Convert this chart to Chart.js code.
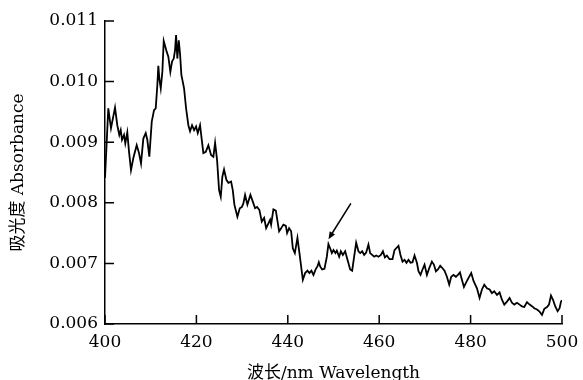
<!DOCTYPE html>
<html>
<head>
<meta charset="utf-8">
<script src="https://cdn.jsdelivr.net/npm/chart.js@4/dist/chart.umd.min.js"></script>
<style>
  html, body { margin: 0; padding: 0; background: #fff; }
  canvas { display: block; }
</style>
</head>
<body>
<canvas id="espectro" width="583" height="380"></canvas>
<script>
const wavelengths = [
  400.00, 400.72, 401.31, 402.19, 402.69, 403.13, 403.44, 403.72, 404.16, 404.44,
  404.88, 405.26, 405.69, 406.20, 406.94, 407.44, 407.88, 408.39, 408.91, 409.26,
  409.70, 410.23, 410.73, 411.10, 411.45, 411.67, 411.89, 412.20, 412.55, 412.85,
  413.51, 413.86, 414.30, 414.67, 415.04, 415.33, 415.55, 415.83, 416.14, 416.42,
  416.71, 417.01, 417.30, 417.74, 418.24, 418.61, 419.05, 419.49, 419.93, 420.30,
  420.80, 421.52, 422.05, 422.62, 423.21, 423.71, 424.09, 424.52, 424.96, 425.33,
  425.68, 426.05, 426.56, 427.00, 427.59, 427.96, 428.31, 428.97, 429.49, 429.93,
  430.28, 430.65, 431.16, 431.82, 432.34, 432.84, 433.28, 433.79, 434.31, 434.82,
  435.26, 435.76, 436.13, 436.35, 436.85, 437.38, 438.10, 438.54, 439.04, 439.57,
  439.85, 440.29, 440.73, 441.10, 441.54, 442.11, 442.55, 443.29, 443.79, 444.30,
  444.73, 445.17, 445.61, 446.14, 446.49, 446.79, 447.08, 447.51, 448.02, 448.54,
  448.89, 449.26, 449.64, 449.99, 450.43, 450.73, 451.24, 451.61, 452.05, 452.55,
  453.06, 453.65, 454.08, 454.52, 454.96, 455.46, 455.84, 456.27, 456.71, 457.15,
  457.65, 458.02, 458.46, 458.90, 459.34, 459.84, 460.37, 460.81, 461.24, 461.68,
  462.25, 462.91, 463.35, 463.72, 464.22, 464.66, 465.10, 465.54, 465.97, 466.41,
  466.85, 467.29, 467.73, 468.25, 468.60, 469.04, 469.48, 469.92, 470.44, 470.94,
  471.53, 471.97, 472.41, 472.85, 473.35, 473.86, 474.29, 474.82, 475.32, 475.76,
  476.26, 476.79, 477.23, 477.67, 478.10, 478.54, 478.98, 479.55, 480.14, 480.64,
  481.39, 481.96, 482.48, 482.99, 483.58, 484.15, 484.67, 485.18, 485.77, 486.34,
  486.86, 487.37, 487.96, 488.53, 489.05, 489.56, 490.15, 490.72, 491.24, 491.75,
  492.34, 492.91, 493.50, 493.94, 494.53, 495.03, 495.62, 496.13, 496.72, 497.15,
  497.59, 498.03, 498.53, 499.04, 499.47, 499.78, 500.00
];

const absorbance = [
  0.00841, 0.00956, 0.00923, 0.00957, 0.00928, 0.00912, 0.00920, 0.00904, 0.00912, 0.00898,
  0.00916, 0.00884, 0.00854, 0.00874, 0.00895, 0.00882, 0.00865, 0.00906, 0.00915, 0.00904,
  0.00876, 0.00934, 0.00953, 0.00956, 0.00994, 0.01026, 0.01005, 0.00989, 0.01016, 0.01067,
  0.01049, 0.01041, 0.01016, 0.01033, 0.01038, 0.01052, 0.01077, 0.01038, 0.01068, 0.01046,
  0.01011, 0.01000, 0.00989, 0.00956, 0.00928, 0.00918, 0.00928, 0.00920, 0.00926, 0.00915,
  0.00928, 0.00882, 0.00884, 0.00895, 0.00879, 0.00876, 0.00899, 0.00871, 0.00821, 0.00810,
  0.00843, 0.00855, 0.00838, 0.00833, 0.00835, 0.00821, 0.00797, 0.00777, 0.00791, 0.00793,
  0.00799, 0.00813, 0.00797, 0.00813, 0.00802, 0.00791, 0.00793, 0.00788, 0.00769, 0.00775,
  0.00758, 0.00766, 0.00772, 0.00764, 0.00789, 0.00787, 0.00753, 0.00758, 0.00764, 0.00762,
  0.00750, 0.00758, 0.00753, 0.00725, 0.00717, 0.00742, 0.00717, 0.00673, 0.00684, 0.00688,
  0.00684, 0.00688, 0.00681, 0.00691, 0.00695, 0.00702, 0.00695, 0.00690, 0.00691, 0.00711,
  0.00732, 0.00725, 0.00717, 0.00722, 0.00717, 0.00721, 0.00711, 0.00720, 0.00714, 0.00720,
  0.00706, 0.00690, 0.00688, 0.00711, 0.00734, 0.00720, 0.00717, 0.00720, 0.00714, 0.00718,
  0.00731, 0.00717, 0.00714, 0.00711, 0.00713, 0.00711, 0.00714, 0.00720, 0.00710, 0.00713,
  0.00707, 0.00707, 0.00722, 0.00725, 0.00729, 0.00714, 0.00703, 0.00706, 0.00701, 0.00706,
  0.00701, 0.00702, 0.00713, 0.00701, 0.00687, 0.00681, 0.00690, 0.00698, 0.00681, 0.00692,
  0.00703, 0.00698, 0.00687, 0.00690, 0.00696, 0.00692, 0.00688, 0.00678, 0.00665, 0.00678,
  0.00681, 0.00678, 0.00681, 0.00685, 0.00673, 0.00661, 0.00668, 0.00676, 0.00684, 0.00671,
  0.00659, 0.00643, 0.00657, 0.00665, 0.00659, 0.00657, 0.00651, 0.00654, 0.00648, 0.00652,
  0.00640, 0.00632, 0.00637, 0.00643, 0.00635, 0.00632, 0.00635, 0.00632, 0.00629, 0.00628,
  0.00636, 0.00632, 0.00629, 0.00626, 0.00624, 0.00621, 0.00615, 0.00625, 0.00628, 0.00632,
  0.00647, 0.00640, 0.00629, 0.00621, 0.00626, 0.00637, 0.00639
];

const xTicks = [400, 420, 440, 460, 480, 500];
const yTicks = [0.006, 0.007, 0.008, 0.009, 0.010, 0.011];

// Flecha que señala el pico (cola -> punta, en unidades de datos)
const arrowTail = [453.8, 0.00799];
const arrowTip = [448.9, 0.00740];

const fuente = "'DejaVu Serif', 'Noto Sans CJK SC', serif";

// Marcas de graduación hacia dentro y flecha
const marcasPlugin = {
    id: 'marcas',
    afterDatasetsDraw(chart) {
        const ctx = chart.ctx;
        const xs = chart.scales.x;
        const ys = chart.scales.y;
        const area = chart.chartArea;
        ctx.save();
        ctx.strokeStyle = '#000';
        ctx.lineWidth = 1.5;
        ctx.beginPath();
        xTicks.forEach(v => {
            const px = xs.getPixelForValue(v);
            ctx.moveTo(px, area.bottom);
            ctx.lineTo(px, area.bottom - 9);
        });
        yTicks.forEach(v => {
            const py = ys.getPixelForValue(v);
            ctx.moveTo(area.left, py);
            ctx.lineTo(area.left + 9, py);
        });
        ctx.stroke();

        const x1 = xs.getPixelForValue(arrowTail[0]);
        const y1 = ys.getPixelForValue(arrowTail[1]);
        const x2 = xs.getPixelForValue(arrowTip[0]);
        const y2 = ys.getPixelForValue(arrowTip[1]);
        const ang = Math.atan2(y2 - y1, x2 - x1);
        const len = 8;
        ctx.beginPath();
        ctx.moveTo(x1, y1);
        ctx.lineTo(x2 - Math.cos(ang) * 4, y2 - Math.sin(ang) * 4);
        ctx.stroke();
        ctx.beginPath();
        ctx.fillStyle = '#000';
        ctx.moveTo(x2, y2);
        ctx.lineTo(x2 - len * Math.cos(ang - 0.4), y2 - len * Math.sin(ang - 0.4));
        ctx.lineTo(x2 - len * Math.cos(ang + 0.4), y2 - len * Math.sin(ang + 0.4));
        ctx.closePath();
        ctx.fill();
        ctx.restore();
    }
};

const puntos = wavelengths.map((w, i) => ({ x: w, y: absorbance[i] }));

new Chart(document.getElementById('espectro'), {
    type: 'line',
    data: {
        datasets: [{
            data: puntos,
            borderColor: '#000',
            borderWidth: 1.8,
            pointRadius: 0,
            tension: 0,
            fill: false
        }]
    },
    options: {
        responsive: false,
        animation: false,
        layout: { padding: { top: 21, right: 21, left: 0, bottom: 0 } },
        plugins: {
            legend: { display: false },
            tooltip: { enabled: false }
        },
        scales: {
            x: {
                type: 'linear',
                min: 400,
                max: 500,
                afterBuildTicks: s => { s.ticks = xTicks.map(v => ({ value: v })); },
                afterFit: s => { s.height = 56; s.paddingRight = 0; s.paddingLeft = 0; },
                grid: { display: false, drawTicks: false },
                border: { display: true, color: '#000', width: 1.5 },
                ticks: {
                    color: '#000',
                    padding: 8,
                    font: { family: fuente, size: 17 },
                    maxRotation: 0
                },
                title: {
                    display: true,
                    text: '波长/nm Wavelength',
                    color: '#000',
                    font: { family: fuente, size: 17 },
                    padding: { top: 0, bottom: -4 }
                }
            },
            y: {
                min: 0.006,
                max: 0.011,
                afterBuildTicks: s => { s.ticks = yTicks.map(v => ({ value: v })); },
                afterFit: s => { s.width = 105; },
                grid: { display: false, drawTicks: false },
                border: { display: true, color: '#000', width: 1.5 },
                ticks: {
                    color: '#000',
                    padding: 7,
                    font: { family: fuente, size: 17 },
                    callback: v => v.toFixed(3)
                },
                title: {
                    display: true,
                    text: '吸光度 Absorbance',
                    color: '#000',
                    font: { family: fuente, size: 17 },
                    padding: { top: 8, bottom: 0 }
                }
            }
        }
    },
    plugins: [marcasPlugin]
});
</script>
</body>
</html>
